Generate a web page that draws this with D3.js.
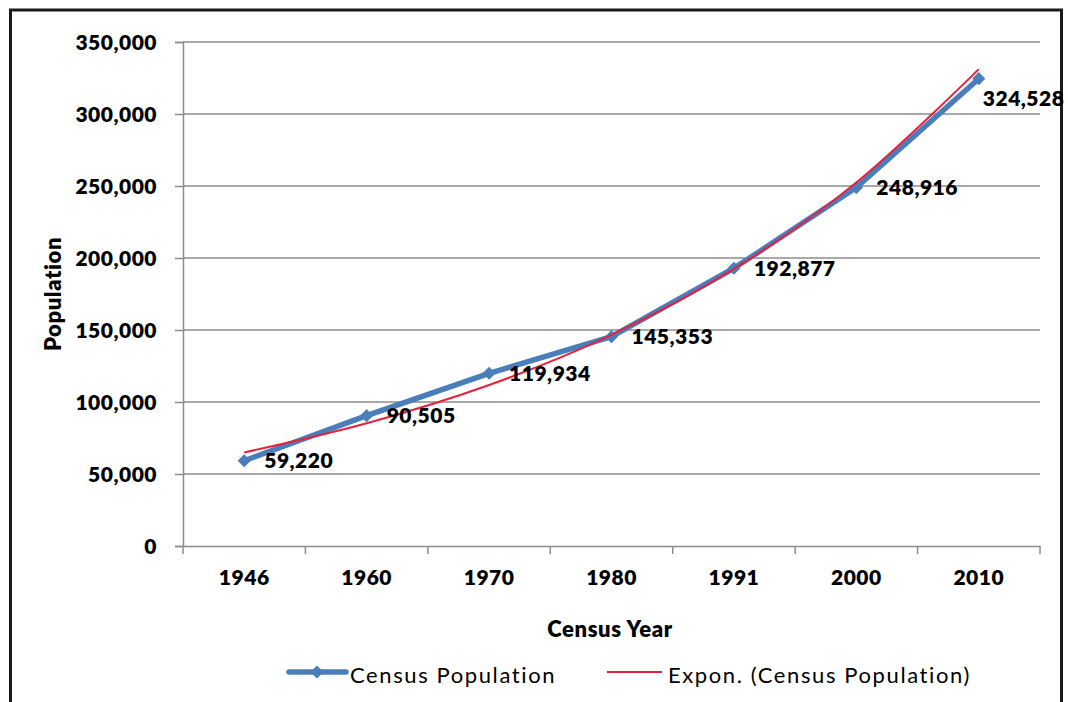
<!DOCTYPE html>
<html>
<head>
<meta charset="utf-8">
<script src="https://cdn.jsdelivr.net/npm/d3@7"></script>
<style>
  html, body { margin: 0; padding: 0; background: #fff; }
  svg { display: block; }
</style>
</head>
<body>
<svg id="chart" width="1068" height="702"></svg>
<script>
// ---- data ----
const years = ["1946", "1960", "1970", "1980", "1991", "2000", "2010"];
const population = [59220, 90505, 119934, 145353, 192877, 248916, 324528];
// Exponential trendline values
const trend = [64960, 85220, 111800, 146670, 192420, 252440, 331180];
const yTicks = [0, 50000, 100000, 150000, 200000, 250000, 300000, 350000];
const seriesName = "Census Population";
const trendName = "Expon. (Census Population)";
const xTitle = "Census Year";
const yTitle = "Population";

// ---- layout ----
const svg = d3.select("#chart");
const W = 1068, H = 702;
const plot = { left: 183, right: 1040, top: 42, bottom: 546 };
const blue = "#4a7ebb", red = "#e8203e", grid = "#8c8c8c";
const boldFont = "Lato, 'Open Sans', sans-serif";
const labelSize = "21px", labelSpacing = "0.5px", labelWeight = 800;

svg.append("rect").attr("width", W).attr("height", H).attr("fill", "#fff");

// frame
svg.append("rect")
  .attr("x", 10.5).attr("y", 10).attr("width", 1051).attr("height", 720)
  .attr("fill", "none").attr("stroke", "#1a1a1a").attr("stroke-width", 3);

const x = d3.scaleBand().domain(years).range([plot.left, plot.right]).padding(0);
const y = d3.scaleLinear().domain([0, 350000]).range([plot.bottom, plot.top]);
const cx = d => x(d) + x.bandwidth() / 2;

// gridlines
svg.append("g").selectAll("line").data(yTicks.filter(d => d > 0)).join("line")
  .attr("x1", plot.left).attr("x2", plot.right)
  .attr("y1", d => y(d)).attr("y2", d => y(d))
  .attr("stroke", grid).attr("stroke-width", 1.5);

// y axis
const yAxis = svg.append("g").attr("transform", `translate(${plot.left},0)`)
  .call(d3.axisLeft(y).tickValues(yTicks).tickSize(8).tickPadding(18)
    .tickFormat(d3.format(",")));
yAxis.select(".domain").attr("stroke", grid).attr("stroke-width", 1.5);
yAxis.selectAll(".tick line").attr("stroke", grid).attr("stroke-width", 1.5);
yAxis.selectAll(".tick text")
  .attr("font-family", boldFont).attr("font-weight", labelWeight)
  .attr("font-size", labelSize).attr("letter-spacing", labelSpacing)
  .attr("fill", "#000").attr("dy", "0.36em");

// x axis
const xAxis = svg.append("g").attr("transform", `translate(0,${plot.bottom})`)
  .call(d3.axisBottom(x).tickSize(0).tickPadding(0));
xAxis.select(".domain").attr("stroke", grid).attr("stroke-width", 1.5);
xAxis.selectAll(".tick line").remove();
xAxis.selectAll(".tick text")
  .attr("font-family", boldFont).attr("font-weight", labelWeight)
  .attr("font-size", labelSize).attr("letter-spacing", labelSpacing)
  .attr("fill", "#000").attr("y", 39).attr("dy", 0);
// category boundary tick marks
const bounds = years.map(d => x(d)).concat([x(years[years.length - 1]) + x.bandwidth()]);
svg.append("g").selectAll("line").data(bounds).join("line")
  .attr("x1", d => d).attr("x2", d => d)
  .attr("y1", plot.bottom).attr("y2", plot.bottom + 8)
  .attr("stroke", grid).attr("stroke-width", 1.5);

// axis titles
svg.append("text").text(xTitle)
  .attr("x", 610).attr("y", 637).attr("text-anchor", "middle")
  .attr("font-family", boldFont).attr("font-weight", labelWeight).attr("font-size", "22px")
  .attr("letter-spacing", "0.6px").attr("fill", "#000");
svg.append("text").text(yTitle)
  .attr("transform", "translate(61,294) rotate(-90)").attr("text-anchor", "middle")
  .attr("font-family", boldFont).attr("font-weight", labelWeight).attr("font-size", "22px")
  .attr("letter-spacing", "0.6px").attr("fill", "#000");

// series line
const line = d3.line().x((d, i) => cx(years[i])).y(d => y(d));
svg.append("path").datum(population).attr("d", line)
  .attr("fill", "none").attr("stroke", blue).attr("stroke-width", 5.5)
  .attr("stroke-linejoin", "round");

// markers
const diamond = d3.symbol().type(d3.symbolDiamond2).size(110);
svg.append("g").selectAll("path").data(population).join("path")
  .attr("d", diamond)
  .attr("transform", (d, i) => `translate(${cx(years[i])},${y(d)})`)
  .attr("fill", blue);

// trendline
const tline = d3.line().x((d, i) => cx(years[i])).y(d => y(d)).curve(d3.curveCatmullRom);
svg.append("path").datum(trend).attr("d", tline)
  .attr("fill", "none").attr("stroke", red).attr("stroke-width", 2);

// data labels
const fmt = d3.format(",");
svg.append("g").selectAll("text").data(population).join("text")
  .text(d => fmt(d))
  .attr("x", (d, i) => cx(years[i]) + (i === population.length - 1 ? 4 : 20))
  .attr("y", (d, i) => y(d) + (i === population.length - 1 ? 27 : 7.5))
  .attr("font-family", boldFont).attr("font-weight", labelWeight)
  .attr("font-size", labelSize).attr("letter-spacing", labelSpacing).attr("fill", "#000");

// legend
const lg = svg.append("g");
lg.append("line").attr("x1", 289).attr("x2", 346).attr("y1", 672).attr("y2", 672)
  .attr("stroke", blue).attr("stroke-width", 5.5).attr("stroke-linecap", "round");
lg.append("path").attr("d", diamond).attr("transform", "translate(317,672)").attr("fill", blue);
lg.append("text").text(seriesName).attr("x", 350).attr("y", 683)
  .attr("font-family", "Lato, 'Open Sans', sans-serif").attr("font-size", "22px")
  .attr("letter-spacing", "1.6px").attr("fill", "#000");
lg.append("line").attr("x1", 607).attr("x2", 662).attr("y1", 672).attr("y2", 672)
  .attr("stroke", red).attr("stroke-width", 2);
lg.append("text").text(trendName).attr("x", 668).attr("y", 683)
  .attr("font-family", "Lato, 'Open Sans', sans-serif").attr("font-size", "22px")
  .attr("letter-spacing", "1.6px").attr("fill", "#000");
</script>
</body>
</html>
